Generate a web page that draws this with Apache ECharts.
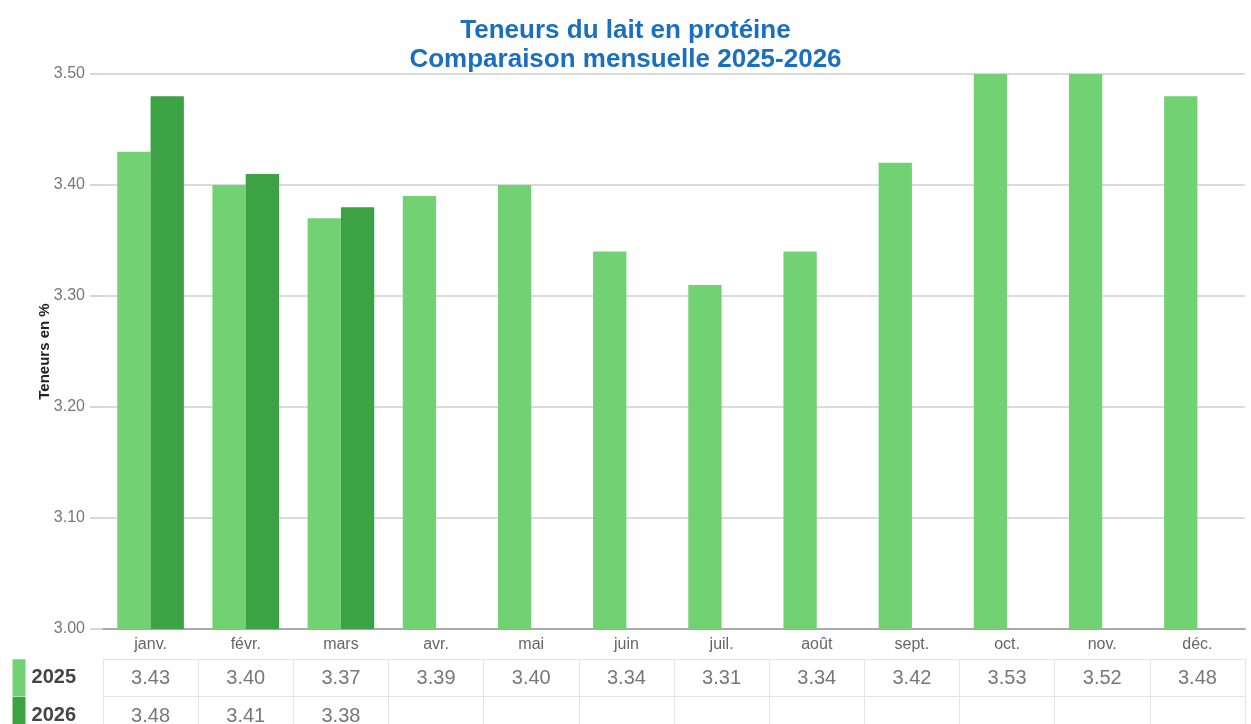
<!DOCTYPE html>
<html>
<head>
<meta charset="utf-8">
<script src="https://cdn.jsdelivr.net/npm/echarts@6/dist/echarts.min.js"></script>
<style>
html,body{margin:0;padding:0;background:#fff;}
#main{width:1251px;height:724px;}
</style>
</head>
<body>
<div id="main"></div>
<script>
// données
var months = ['janv.','févr.','mars','avr.','mai','juin','juil.','août','sept.','oct.','nov.','déc.'];
var years = ['2025','2026'];
var values2025 = [3.43, 3.40, 3.37, 3.39, 3.40, 3.34, 3.31, 3.34, 3.42, 3.53, 3.52, 3.48];
var values2026 = [3.48, 3.41, 3.38];
var yTicks = [3.00, 3.10, 3.20, 3.30, 3.40, 3.50];

var colors = ['#72d173', '#3da244'];
var font = '"Liberation Sans", Arial, sans-serif';

// cellules du tableau sous le graphique
var tableData = [];
values2025.forEach(function(v, i){ tableData.push([i, 0, v]); });
values2026.forEach(function(v, i){ tableData.push([i, 1, v]); });

var chart = echarts.init(document.getElementById('main'));

var option = {
    animation: false,
    textStyle: {fontFamily: font},
    title: {
        text: 'Teneurs du lait en protéine\nComparaison mensuelle 2025-2026',
        left: 'center',
        top: 11,
        textStyle: {
            fontFamily: font,
            fontSize: 26,
            fontWeight: 'bold',
            color: '#1a6fc1',
            lineHeight: 29
        }
    },
    grid: [
        {left: 103, right: 6, top: 74, bottom: 95, outerBoundsMode: 'none'},
        {left: 103, right: 6, top: 659, height: 75, outerBoundsMode: 'none'}
    ],
    xAxis: [{
        type: 'category',
        gridIndex: 0,
        data: months,
        axisLine: {lineStyle: {color: '#aaa', width: 2}},
        axisTick: {show: false},
        axisLabel: {fontSize: 16, color: '#666', margin: 8, interval: 0}
    }, {
        type: 'category',
        gridIndex: 1,
        data: months,
        axisLine: {show: false},
        axisTick: {show: false},
        axisLabel: {show: false},
        splitLine: {show: true, interval: 0, lineStyle: {color: '#e4e4e4', width: 1}}
    }],
    yAxis: [{
        type: 'value',
        gridIndex: 0,
        min: yTicks[0],
        max: yTicks[yTicks.length - 1],
        interval: 0.1,
        name: 'Teneurs en %',
        nameLocation: 'middle',
        nameRotate: 90,
        nameGap: 51,
        nameMoveOverlap: false,
        nameTextStyle: {fontSize: 15, fontWeight: 'bold', color: '#222'},
        axisLine: {show: false},
        axisTick: {show: true, length: 13, lineStyle: {color: '#c8c8c8', width: 1.5}},
        axisLabel: {
            fontSize: 16, color: '#777', margin: 18,
            formatter: function(v){ return v.toFixed(2); }
        },
        splitLine: {lineStyle: {color: '#cfcfcf', width: 1.5}}
    }, {
        type: 'category',
        gridIndex: 1,
        data: years,
        inverse: true,
        axisLine: {show: false},
        axisTick: {show: false},
        splitLine: {show: true, interval: 0, lineStyle: {color: '#e4e4e4', width: 1}},
        axisLabel: {
            interval: 0,
            margin: 27,
            formatter: function(v, i){ return '{s' + i + '|}{b|' + v + '}'; },
            rich: {
                s0: {backgroundColor: colors[0], width: 13, height: 37},
                s1: {backgroundColor: colors[1], width: 13, height: 37},
                b: {fontSize: 20, fontWeight: 'bold', color: '#444', padding: [0, 0, 0, 6]}
            }
        }
    }],
    series: [{
        name: '2025',
        type: 'bar',
        xAxisIndex: 0,
        yAxisIndex: 0,
        data: values2025,
        itemStyle: {color: colors[0]},
        barGap: '0%',
        barCategoryGap: '30%',
        clip: true
    }, {
        name: '2026',
        type: 'bar',
        xAxisIndex: 0,
        yAxisIndex: 0,
        data: values2026,
        itemStyle: {color: colors[1]},
        clip: true
    }, {
        name: 'tableau',
        type: 'scatter',
        xAxisIndex: 1,
        yAxisIndex: 1,
        data: tableData,
        symbolSize: 1,
        itemStyle: {color: 'rgba(0,0,0,0)'},
        label: {
            show: true,
            position: 'inside',
            fontSize: 20,
            color: '#555',
            offset: [0, 1],
            formatter: function(p){ return p.value[2].toFixed(2); }
        }
    }]
};

chart.setOption(option);
</script>
</body>
</html>
